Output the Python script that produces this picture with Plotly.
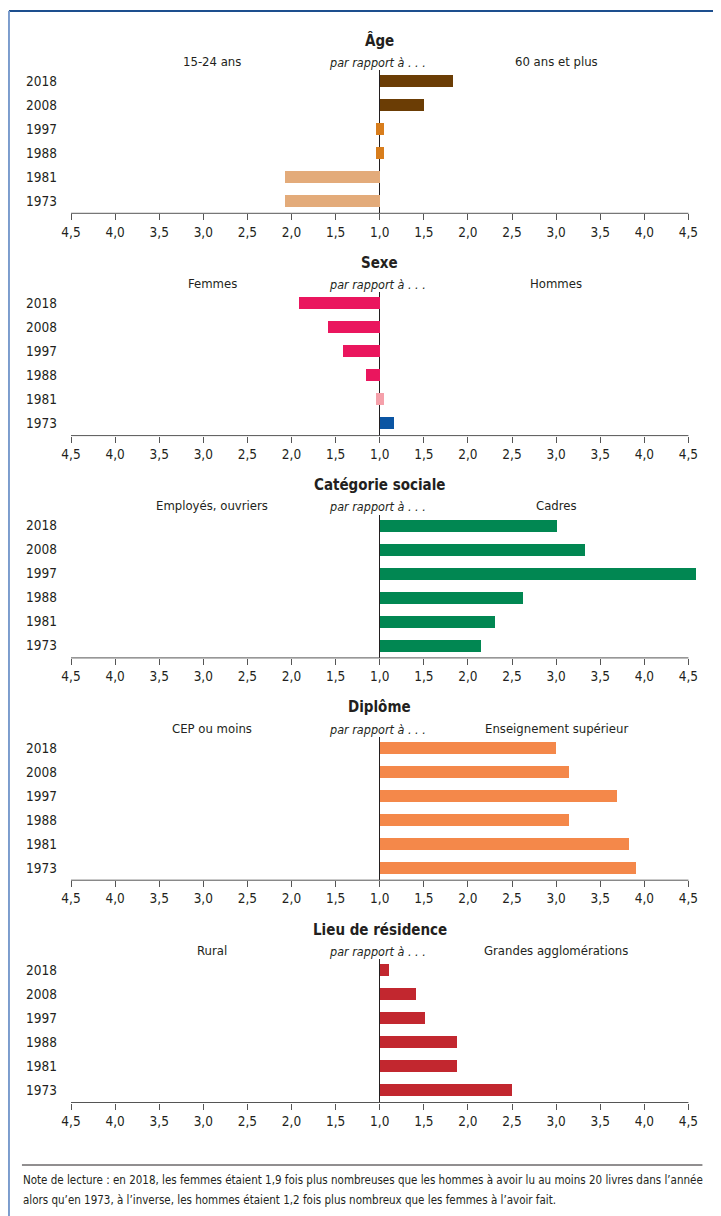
import plotly.graph_objects as go

# ---------------- data ----------------
years = ["2018", "2008", "1997", "1988", "1981", "1973"]  # top to bottom
tick_vals = [-3.5, -3.0, -2.5, -2.0, -1.5, -1.0, -0.5, 0, 0.5, 1.0, 1.5, 2.0, 2.5, 3.0, 3.5]
tick_text = ["4,5", "4,0", "3,5", "3,0", "2,5", "2,0", "1,5", "1,0",
             "1,5", "2,0", "2,5", "3,0", "3,5", "4,0", "4,5"]

panel_titles = ["Âge", "Sexe", "Catégorie sociale", "Diplôme", "Lieu de résidence"]
left_groups = ["15-24 ans", "Femmes", "Employés, ouvriers", "CEP ou moins", "Rural"]
right_groups = ["60 ans et plus", "Hommes", "Cadres", "Enseignement supérieur", "Grandes agglomérations"]

# ratio (x fois plus nombreux) and which group is ahead: "L" left, "R" right, "=" equal
age_ratio = [1.83, 1.50, 1.0, 1.0, 2.07, 2.07]
age_side = ["R", "R", "=", "=", "L", "L"]
age_colors = ["#6b3d05", "#6b3d05", "#d87d1c", "#d87d1c", "#e3ab7a", "#e3ab7a"]

sexe_ratio = [1.92, 1.59, 1.42, 1.16, 1.0, 1.16]
sexe_side = ["L", "L", "L", "L", "=", "R"]
sexe_colors = ["#ea165e", "#ea165e", "#ea165e", "#ea165e", "#f5a0aa", "#0b55a3"]

cat_ratio = [3.01, 3.33, 4.59, 2.62, 2.31, 2.15]
cat_side = ["R", "R", "R", "R", "R", "R"]
cat_colors = ["#018752"] * 6

dip_ratio = [3.00, 3.15, 3.69, 3.15, 3.83, 3.91]
dip_side = ["R", "R", "R", "R", "R", "R"]
dip_colors = ["#f4884a"] * 6

lieu_ratio = [1.10, 1.41, 1.51, 1.88, 1.88, 2.50]
lieu_side = ["R", "R", "R", "R", "R", "R"]
lieu_colors = ["#c2272f"] * 6

note_lines = [
    "Note de lecture : en 2018, les femmes étaient 1,9 fois plus nombreuses que les hommes à avoir lu au moins 20 livres dans l’année",
    "alors qu’en 1973, à l’inverse, les hommes étaient 1,2 fois plus nombreux que les femmes à l’avoir fait.",
]

panels = [
    (age_ratio, age_side, age_colors),
    (sexe_ratio, sexe_side, sexe_colors),
    (cat_ratio, cat_side, cat_colors),
    (dip_ratio, dip_side, dip_colors),
    (lieu_ratio, lieu_side, lieu_colors),
]

# ---------------- layout geometry (pixels, page coordinates) ----------------
OFF = 8                      # default page margin around the figure
W, H = 721 - OFF, 1216 - OFF
ML = 71 - OFF
X_MIN, X_AX_MAX, X_MAX = -3.5, 3.5, 3.62
UNIT = 617 / 7.0             # pixels per unit
PW = UNIT * (X_MAX - X_MIN)
MR = W - ML - PW
FONT = "DejaVu Sans Condensed, Liberation Sans Narrow, Arial Narrow, sans-serif"
TXT = "#231f20"
AXIS0 = 213.3
PERIOD = 222.3
PLOT_H = 143.3
EQUAL_HALF = 0.045


def py(y):
    return 1 - (y - OFF) / H


def px(x):
    return (x - OFF - ML) / PW


fig = go.Figure()
annotations = []
shapes = []
layout = {}

for k, (ratio, side, colors) in enumerate(panels):
    ax = "" if k == 0 else str(k + 1)
    xa, ya = "x" + ax, "y" + ax
    lengths, bases = [], []
    for r, s in zip(ratio, side):
        if s == "=":
            lengths.append(2 * EQUAL_HALF)
            bases.append(-EQUAL_HALF)
        else:
            sign = -1 if s == "L" else 1
            lengths.append(sign * (r - 1))
            bases.append(0)
    fig.add_trace(go.Bar(
        x=lengths, y=years, base=bases, orientation="h",
        marker=dict(color=colors, line=dict(width=0)),
        width=0.47, xaxis=xa, yaxis=ya, hoverinfo="skip", showlegend=False,
    ))
    bottom = AXIS0 + PERIOD * k
    top = bottom - PLOT_H
    layout["xaxis" + ax] = dict(
        domain=[0, 1], anchor=ya, range=[X_MIN, X_MAX],
        tickmode="array", tickvals=tick_vals, ticktext=tick_text,
        ticks="outside", ticklen=6, tickcolor="#555555", tickwidth=1,
        showline=False,
        showgrid=False, zeroline=True, zerolinecolor=TXT, zerolinewidth=1,
        tickfont=dict(family=FONT, size=13.5, color=TXT), fixedrange=True,
    )
    layout["yaxis" + ax] = dict(
        domain=[py(bottom), py(top)], anchor=xa,
        type="category", categoryorder="array", categoryarray=years[::-1],
        range=[-0.51, 5.46], showgrid=False, zeroline=False, showline=False,
        ticks="", ticklabelstandoff=13,
        tickfont=dict(family=FONT, size=13.5, color=TXT), fixedrange=True,
    )
    # axis baseline from 4,5 to 4,5
    shapes.append(dict(type="line", xref=xa, yref=ya + " domain",
                       x0=X_MIN, x1=X_AX_MAX, y0=0, y1=0,
                       line=dict(color="#555555", width=1)))
    annotations.append(dict(
        text="<b>" + panel_titles[k] + "</b>", x=0, xref=xa, y=py(bottom - 173), yref="paper",
        showarrow=False, xanchor="center", yanchor="middle",
        font=dict(family=FONT, size=15, color=TXT)))
    annotations.append(dict(
        text="<i>par rapport à . . .</i>", x=-0.02, xref=xa, y=py(bottom - 151), yref="paper",
        showarrow=False, xanchor="center", yanchor="middle",
        font=dict(family=FONT, size=12.5, color=TXT)))
    annotations.append(dict(
        text=left_groups[k], x=-1.9, xref=xa, y=py(bottom - 152), yref="paper",
        showarrow=False, xanchor="center", yanchor="middle",
        font=dict(family=FONT, size=13, color=TXT)))
    annotations.append(dict(
        text=right_groups[k], x=2.0, xref=xa, y=py(bottom - 152), yref="paper",
        showarrow=False, xanchor="center", yanchor="middle",
        font=dict(family=FONT, size=13, color=TXT)))

for i, line in enumerate(note_lines):
    annotations.append(dict(
        text=line, x=px(21), xref="paper", y=py(1180 + 19.5 * i), yref="paper",
        showarrow=False, xanchor="left", yanchor="middle",
        font=dict(family=FONT, size=11.5, color=TXT)))

shapes += [
    dict(type="line", xref="paper", yref="paper", x0=px(9), x1=px(721 + 2), y0=py(11), y1=py(11),
         line=dict(color="#1d4f8e", width=2)),
    dict(type="line", xref="paper", yref="paper", x0=px(9), x1=px(9), y0=py(11), y1=py(1216 + 2),
         line=dict(color="#7b9ccd", width=2)),
    dict(type="line", xref="paper", yref="paper", x0=px(22), x1=px(702), y0=py(1165), y1=py(1165),
         line=dict(color=TXT, width=1)),
]

fig.update_layout(
    width=W, height=H,
    margin=dict(l=ML, r=MR, t=0, b=0),
    paper_bgcolor="white", plot_bgcolor="white",
    annotations=annotations, shapes=shapes, bargap=0,
    **layout,
)

fig.write_html("out.html")
